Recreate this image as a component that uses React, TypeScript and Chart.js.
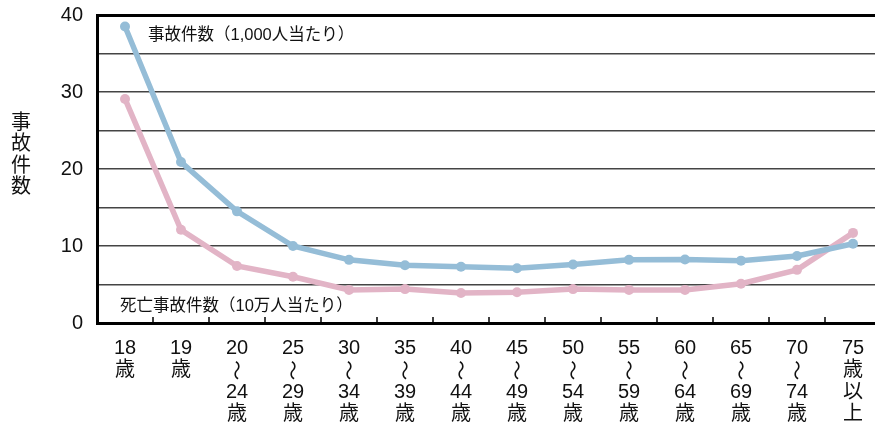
import React, { useEffect, useRef } from 'react';
import { Chart, registerables } from 'chart.js';

Chart.register(...registerables);

const categories: string[][] = [
  ['18', '歳'],
  ['19', '歳'],
  ['20', '～', '24', '歳'],
  ['25', '～', '29', '歳'],
  ['30', '～', '34', '歳'],
  ['35', '～', '39', '歳'],
  ['40', '～', '44', '歳'],
  ['45', '～', '49', '歳'],
  ['50', '～', '54', '歳'],
  ['55', '～', '59', '歳'],
  ['60', '～', '64', '歳'],
  ['65', '～', '69', '歳'],
  ['70', '～', '74', '歳'],
  ['75', '歳', '以', '上'],
];

const accidentsPer1000 = [38.5, 20.9, 14.5, 10.0, 8.2, 7.5, 7.3, 7.1, 7.6, 8.2, 8.25, 8.1, 8.7, 10.3];
const fatalPer100k = [29.1, 12.1, 7.4, 6.0, 4.3, 4.4, 3.9, 4.0, 4.4, 4.3, 4.3, 5.1, 6.9, 11.7];

const seriesNames = ['事故件数（1,000人当たり）', '死亡事故件数（10万人当たり）'];
const yTitle = '事故件数';
const yMin = 0;
const yMax = 40;
const yStep = 5;
const yLabelStep = 10;

const FONT = '"Liberation Sans", "Noto Sans CJK JP", "DejaVu Sans", sans-serif';
const BLUE = '#95bdd7';
const PINK = '#e2b4c6';

const overlayPlugin = {
  id: 'overlay',
  afterDraw(chart: any) {
    const { ctx, chartArea, scales } = chart;
    const x = scales.x;
    const y = scales.y;
    ctx.save();
    ctx.strokeStyle = '#000';
    ctx.lineWidth = 1.5;
    for (let i = 0; i < categories.length - 1; i++) {
      const px = x.getPixelForValue(i + 0.5);
      ctx.beginPath();
      ctx.moveTo(px, chartArea.bottom);
      ctx.lineTo(px, chartArea.bottom - 6);
      ctx.stroke();
    }
    ctx.fillStyle = '#111';
    ctx.font = `20px ${FONT}`;
    ctx.textAlign = 'center';
    ctx.textBaseline = 'middle';
    categories.forEach((lines, i) => {
      const px = x.getPixelForValue(i);
      lines.forEach((t, k) => {
        const py = chartArea.bottom + 25 + k * 22.3;
        if (t === '～') {
          ctx.save();
          ctx.translate(px, py);
          ctx.rotate(Math.PI / 2);
          ctx.font = `20px "Noto Sans CJK JP", sans-serif`;
          ctx.fillText(t, 0, 0);
          ctx.restore();
        } else {
          ctx.fillText(t, px, py);
        }
      });
    });
    ctx.font = `16.5px ${FONT}`;
    ctx.textAlign = 'left';
    ctx.fillText(seriesNames[0], chartArea.left + 51, y.getPixelForValue(37.4));
    ctx.fillText(seriesNames[1], chartArea.left + 23, y.getPixelForValue(2.2));
    ctx.font = `20px ${FONT}`;
    ctx.textAlign = 'center';
    Array.from(yTitle).forEach((c, i) => {
      ctx.fillText(c, 21, 123 + i * 21.5);
    });
    ctx.restore();
  },
};

export default function App() {
  const ref = useRef<HTMLCanvasElement | null>(null);

  useEffect(() => {
    document.body.style.margin = '0';
    document.body.style.overflow = 'hidden';
    const canvas = ref.current;
    if (!canvas) return;
    const chart = new Chart(canvas, {
      type: 'line',
      data: {
        datasets: [
          {
            label: seriesNames[0],
            data: accidentsPer1000.map((v, i) => ({ x: i, y: v })),
            borderColor: BLUE,
            backgroundColor: BLUE,
            borderWidth: 5.5,
            pointRadius: 5,
            pointBorderWidth: 0,
            pointBackgroundColor: BLUE,
            tension: 0,
          },
          {
            label: seriesNames[1],
            data: fatalPer100k.map((v, i) => ({ x: i, y: v })),
            borderColor: PINK,
            backgroundColor: PINK,
            borderWidth: 5.5,
            pointRadius: 5,
            pointBorderWidth: 0,
            pointBackgroundColor: PINK,
            tension: 0,
          },
        ],
      },
      options: {
        responsive: false,
        animation: false,
        events: [],
        layout: { padding: { top: 15, left: 0, right: 0, bottom: 0 } },
        plugins: {
          legend: { display: false },
          tooltip: { enabled: false },
        },
        scales: {
          x: {
            type: 'linear',
            min: -0.5,
            max: 13.5,
            afterBuildTicks: (scale: any) => {
              scale.ticks = categories.map((_, i) => ({ value: i }));
            },
            afterFit: (scale: any) => {
              scale.height = 102;
              scale.paddingLeft = 0;
              scale.paddingRight = 0;
            },
            grid: { display: false, drawTicks: false },
            border: { display: true, color: '#000', width: 3 },
            ticks: { display: false },
          },
          y: {
            type: 'linear',
            min: yMin,
            max: yMax,
            afterFit: (scale: any) => {
              scale.width = 97;
              scale.paddingTop = 0;
              scale.paddingBottom = 0;
            },
            grid: {
              drawTicks: false,
              color: (c: any) => (c.tick && c.tick.value === yMax ? '#000' : '#444'),
              lineWidth: (c: any) => (c.tick && c.tick.value === yMax ? 3 : 1.5),
            },
            border: { display: true, color: '#000', width: 3 },
            ticks: {
              stepSize: yStep,
              padding: 14,
              color: '#111',
              font: { family: FONT, size: 20 },
              callback: (v: any) => (Number(v) % yLabelStep === 0 ? String(v) : ''),
            },
          },
        },
      },
      plugins: [overlayPlugin],
    } as any);
    return () => chart.destroy();
  }, []);

  return (
    <div style={{ width: 875, height: 425, overflow: 'hidden', position: 'relative' }}>
      <canvas ref={ref} width={886} height={425} style={{ display: 'block', width: 886, height: 425 }} />
    </div>
  );
}
